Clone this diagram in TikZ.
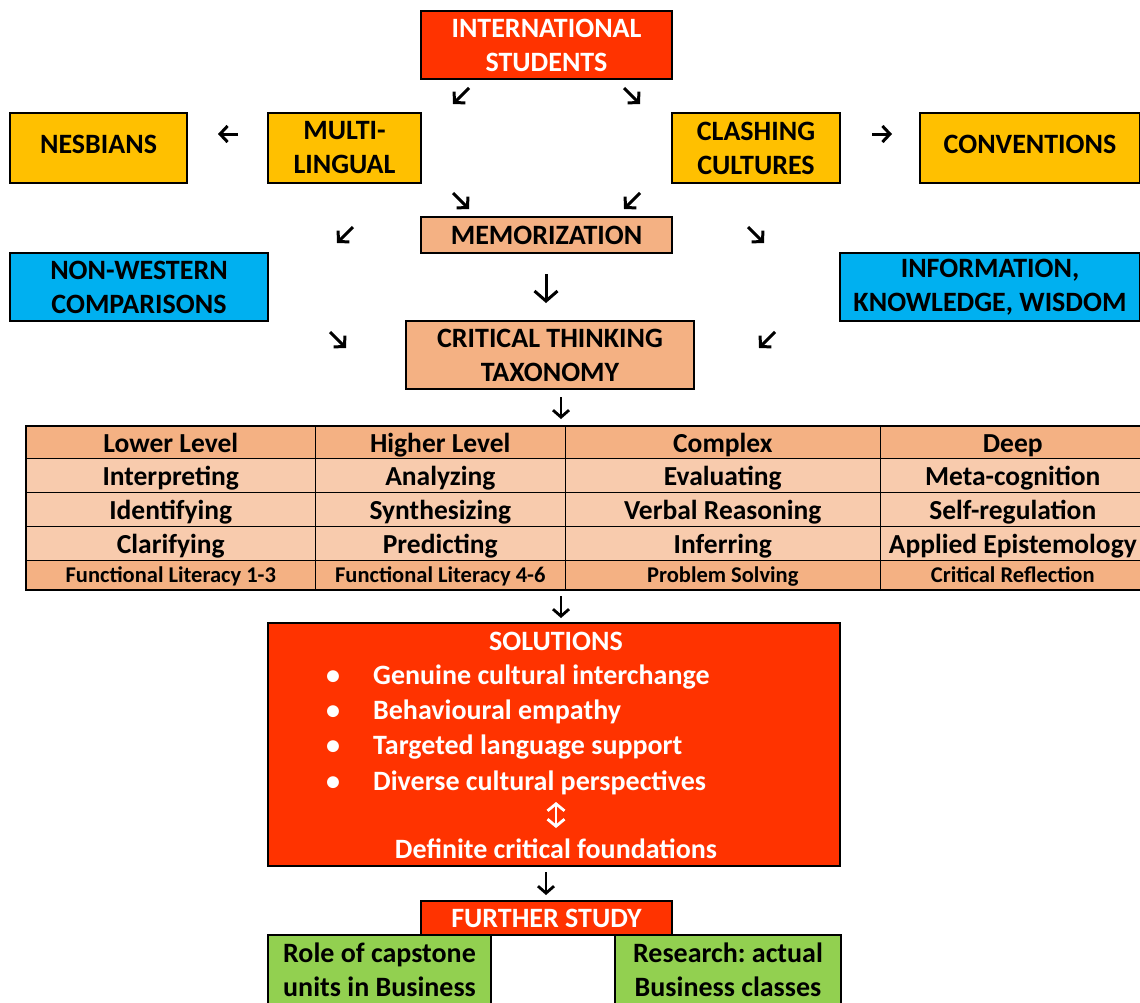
\documentclass[tikz,border=0pt]{standalone}
\usepackage{fontspec}
\setmainfont{Carlito}
\usetikzlibrary{arrows.meta,positioning,matrix}

\definecolor{flamered}{HTML}{FF3300}
\definecolor{amber}{HTML}{FFC000}
\definecolor{peach}{HTML}{F4B183}
\definecolor{palepeach}{HTML}{F8CBAD}
\definecolor{skyblue}{HTML}{00B0F0}
\definecolor{leafgreen}{HTML}{92D050}

\frenchspacing

\begin{document}
\begin{tikzpicture}[
		x=1pt, y=-1pt,
		every node/.style={font=\bfseries\fontsize{28}{34}\selectfont},
		box/.style={draw, line width=1.6pt, align=center, inner sep=0pt},
		soltext/.style={text=white, inner sep=0pt},
		glypharrow/.style={line width=3pt, -{Straight Barb[length=7.5pt,width=16pt]}},
	]
	\useasboundingbox (0,0) rectangle (1140,1002);

	% top row
	\node[box, fill=flamered, text=white, minimum width=251pt, minimum height=68pt] (intl) at (546.5,45) {INTERNATIONAL\\STUDENTS};
	\node[box, fill=amber, minimum width=177pt, minimum height=70pt, text height=18pt, text depth=8pt] (nesb) at (98.5,148) {NESBIANS};
	\node[box, fill=amber, minimum width=153pt, minimum height=70pt] (multi) at (344.5,148) {MULTI-\\LINGUAL};
	\node[box, fill=amber, minimum width=168pt, minimum height=70pt] (clash) at (756,148) {CLASHING\\CULTURES};
	\node[box, fill=amber, minimum width=220pt, minimum height=70pt, text height=18pt, text depth=8pt] (conv) at (1030,148) {CONVENTIONS};

	% middle
	\node[box, fill=peach, minimum width=251pt, minimum height=36pt] (memo) at (546.5,235) {MEMORIZATION};
	\node[box, fill=skyblue, minimum width=258pt, minimum height=68pt] (nonw) at (139,287) {NON-WESTERN\\COMPARISONS};
	\node[box, fill=skyblue, minimum width=300pt, minimum height=68pt] (info) at (990,287) {INFORMATION,\\KNOWLEDGE, WISDOM};
	\node[box, fill=peach, minimum width=288pt, minimum height=68pt] (ctt) at (550,355) {CRITICAL THINKING\\TAXONOMY};

	% taxonomy table
	\matrix (tax) [matrix of nodes, draw, line width=1.6pt, inner sep=0pt, anchor=north west,
		column sep=-1pt, row sep=-1pt,
		nodes={draw, line width=1pt, inner sep=0pt, fill=palepeach, minimum height=34pt,
				text height=22pt, text depth=2pt, anchor=center,
				font=\bfseries\fontsize{27.5}{32}\selectfont},
		column 1/.style={nodes={minimum width=289pt}},
		column 2/.style={nodes={minimum width=250pt}},
		column 3/.style={nodes={minimum width=315pt}},
		column 4/.style={nodes={minimum width=265pt}},
		row 1/.style={nodes={fill=peach, minimum height=32pt}},
		row 5/.style={nodes={fill=peach, minimum height=29pt, text height=17pt, text depth=1pt,
						font=\bfseries\fontsize{22.5}{26}\selectfont}},
	] at (25,425) {
		Lower Level & Higher Level & Complex & Deep \\
		Interpreting & Analyzing & Evaluating & Meta-cognition \\
		Identifying & Synthesizing & Verbal Reasoning & Self-regulation \\
		Clarifying & Predicting & Inferring & Applied Epistemology \\
		Functional Literacy 1-3 & Functional Literacy 4-6 & Problem Solving & Critical Reflection \\
	};

	% solutions
	\node[box, fill=flamered, minimum width=572pt, minimum height=243pt] (sol) at (554,744.5) {};
	\node[soltext, anchor=base] (soltitle) at (556,650) {SOLUTIONS};
	\foreach \i/\y/\t in {1/684/Genuine cultural interchange, 2/719/Behavioural empathy,
			3/754/Targeted language support, 4/790/Diverse cultural perspectives}{
			\node[soltext, anchor=base] (dot\i) at (333,\y) {\textbullet};
			\node[soltext, anchor=base west] (item\i) at (373,\y) {\t};
		}
	\node[soltext, anchor=base] (found) at (556,858) {Definite critical foundations};
	\draw[white, line width=2.8pt, {Straight Barb[length=7pt,width=17pt]}-{Straight Barb[length=7pt,width=17pt]}] (556,802) -- (556,828);

	% further study
	\node[box, fill=flamered, text=white, minimum width=251pt, minimum height=34pt] (further) at (546.5,918) {FURTHER STUDY};
	\node[box, fill=leafgreen, minimum width=223pt, minimum height=70pt] (role) at (379.5,970) {Role of capstone\\units in Business};
	\node[box, fill=leafgreen, minimum width=226pt, minimum height=70pt] (research) at (728,970) {Research: actual\\Business classes};

	% small arrow glyphs
	\foreach \xa/\ya/\xb/\yb in {469/88/453/104, 624/88/640/104, 238/134/218/134, 872/134/892/134,
			453/193/469/209, 640/193/624/209, 353/227/337/243, 748/227/764/243,
			330/332/346/348, 775/332/759/348}
		\draw[glypharrow] (\xa,\ya) -- (\xb,\yb);
	\foreach \xa/\ya/\yb in {561/397/419, 561/596/618, 546/872/895}
		\draw[line width=2.8pt, -{Straight Barb[length=7pt,width=16pt]}] (\xa,\ya) -- (\xa,\yb);
	\draw[line width=3pt, -{Straight Barb[length=10pt,width=23pt]}] (546,274) -- (546,303);
\end{tikzpicture}
\end{document}
